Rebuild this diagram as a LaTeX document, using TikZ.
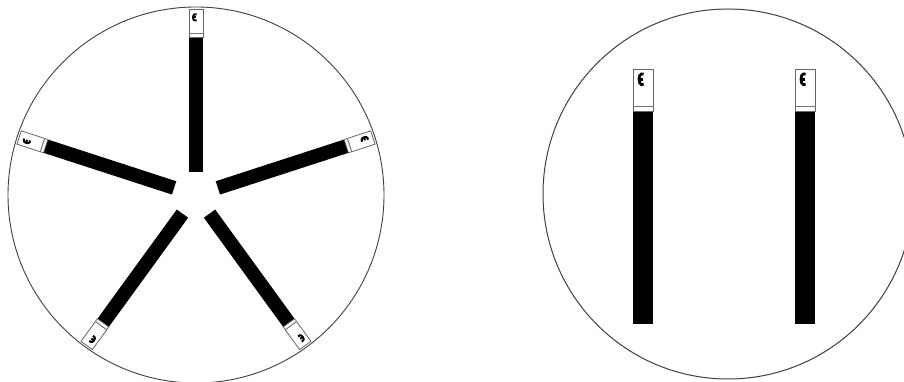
\documentclass[tikz,border=0pt]{standalone}
\begin{document}
\begin{tikzpicture}[x=1pt,y=1pt,
  rim/.style={draw=black!75, line width=0.9pt},
  outline/.style={draw=black!60, line width=0.8pt},
  sep/.style={draw=black!55, line width=1pt},
  glyphline/.style={line width=2pt, line cap=butt}]
\useasboundingbox (0,0) rectangle (904,382);
% left disc
\coordinate (L) at (196,187);
\draw[rim] (L) circle (188);
\foreach \a in {90,162,234,306,18}{
  \begin{scope}[shift={(L)}, rotate=\a-90]
    \fill[black] (-7,23) rectangle (7,158);
    \draw[outline] (-7,158) rectangle (7,186);
    \draw[sep] (-7,161.5) -- (7,161.5);
    \begin{scope}[shift={(-3,174.5)}, xscale=3.6, yscale=6.2]
      \draw[glyphline] (1,1) -- (0.5,1) arc (90:270:0.5) -- (1,0);
      \draw[glyphline] (0,0.5) -- (0.9,0.5);
    \end{scope}
  \end{scope}
}
% right disc
\coordinate (R) at (728,188);
\draw[rim, line width=1pt] (R) circle (185);
\foreach \X in {643,805}{
  \fill[black] (\X-10,58) rectangle (\X+10,271);
  \draw[outline] (\X-10,271) rectangle (\X+10,313);
  \draw[sep] (\X-10,275) -- (\X+10,275);
  \begin{scope}[shift={(\X-4,297.5)}, xscale=4.6, yscale=10.5]
    \draw[glyphline, line width=2.8pt] (1,1) -- (0.5,1) arc (90:270:0.5) -- (1,0);
    \draw[glyphline, line width=2.8pt] (0,0.5) -- (0.9,0.5);
  \end{scope}
}
\end{tikzpicture}
\end{document}
